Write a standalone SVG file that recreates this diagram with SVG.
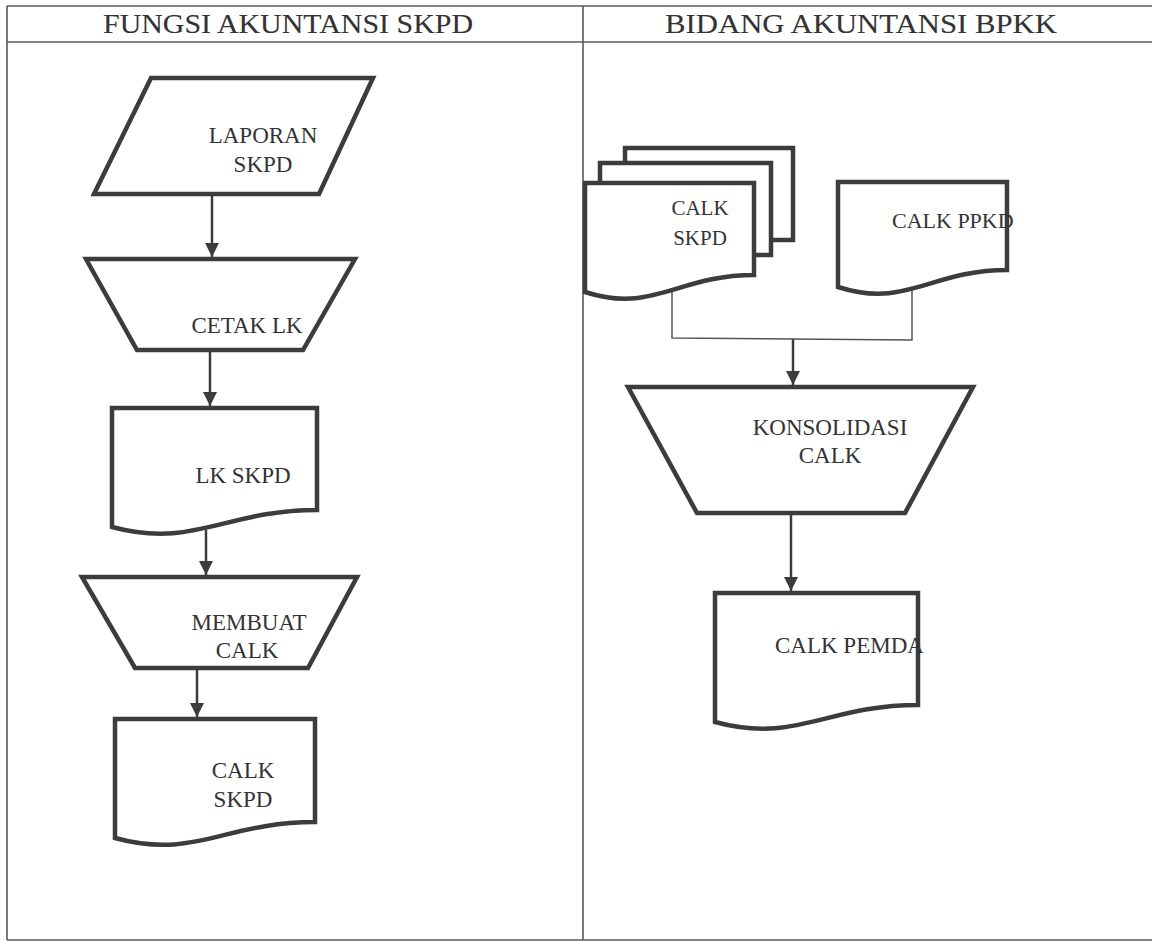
<svg xmlns="http://www.w3.org/2000/svg" width="1152" height="942" viewBox="0 0 1152 942">
  <style>
    .grid { stroke: #5a5856; stroke-width: 1.6; fill: none; }
    .hdr { font-family: "Liberation Serif", "DejaVu Serif", serif; font-size: 27px; fill: #333333; stroke: #333333; stroke-width: 0.1; text-anchor: middle; }
    .shape { fill: #ffffff; stroke: #3c3c3c; stroke-width: 4.5; stroke-linejoin: miter; }
    .lbl { font-family: "Liberation Serif", "Times New Roman", serif; font-size: 23px; fill: #333333; text-anchor: middle; }
    .lbl-s { font-size: 21px; }
    .start { text-anchor: start; }
    .flow { stroke: #3c3c3c; stroke-width: 2.5; fill: none; }
    .join { stroke: #555555; stroke-width: 1.5; fill: none; }
  </style>
  <defs>
    <marker id="arrow" markerUnits="userSpaceOnUse" markerWidth="14" markerHeight="16" refX="14" refY="7" orient="auto">
      <path d="M0,0 L14,7 L0,14 Z" fill="#3c3c3c"/>
    </marker>
  </defs>

  <rect width="1152" height="942" fill="#ffffff"/>

  <!-- swimlane table -->
  <g id="lanes">
    <line class="grid" x1="7" y1="6" x2="1152" y2="6"/>
    <line class="grid" x1="7" y1="42" x2="1152" y2="42"/>
    <line class="grid" x1="7" y1="6" x2="7" y2="940"/>
    <line class="grid" x1="583" y1="6" x2="583" y2="940"/>
    <line class="grid" x1="7" y1="940" x2="1152" y2="940"/>
    <text class="hdr" x="288" y="33" textLength="370" lengthAdjust="spacingAndGlyphs">FUNGSI AKUNTANSI SKPD</text>
    <text class="hdr" x="861" y="33" textLength="392" lengthAdjust="spacingAndGlyphs">BIDANG AKUNTANSI BPKK</text>
  </g>

  <!-- connectors -->
  <g id="connectors">
    <line class="flow" x1="212" y1="196" x2="212" y2="257" marker-end="url(#arrow)"/>
    <line class="flow" x1="210" y1="350" x2="210" y2="406" marker-end="url(#arrow)"/>
    <line class="flow" x1="206" y1="530" x2="206" y2="575" marker-end="url(#arrow)"/>
    <line class="flow" x1="197" y1="668" x2="197" y2="717" marker-end="url(#arrow)"/>
    <polyline class="join" points="672,283 672,338 912,340 912,287"/>
    <line class="flow" x1="793" y1="339" x2="793" y2="385" marker-end="url(#arrow)"/>
    <line class="flow" x1="791" y1="513" x2="791" y2="591" marker-end="url(#arrow)"/>
  </g>

  <!-- left lane -->
  <g id="laporan-skpd">
    <polygon class="shape" points="151,78 373,78 319,194 94,194"/>
    <text class="lbl" x="263" y="143">LAPORAN</text>
    <text class="lbl" x="263" y="172">SKPD</text>
  </g>

  <g id="cetak-lk">
    <polygon class="shape" points="86,259 355,259 303,350 137,350"/>
    <text class="lbl" x="247" y="333">CETAK LK</text>
  </g>

  <g id="lk-skpd">
    <path class="shape" d="M112,408 H317 V510 C225,510 194,549 112,527 Z"/>
    <text class="lbl" x="243" y="483">LK SKPD</text>
  </g>

  <g id="membuat-calk">
    <polygon class="shape" points="82,577 357,577 308,668 135,668"/>
    <text class="lbl" x="249" y="630">MEMBUAT</text>
    <text class="lbl" x="247" y="658">CALK</text>
  </g>

  <g id="calk-skpd">
    <path class="shape" d="M115,719 H315 V822 C225,822 195,860 115,838 Z"/>
    <text class="lbl" x="243" y="778">CALK</text>
    <text class="lbl" x="243" y="807">SKPD</text>
  </g>

  <!-- right lane -->
  <g id="calk-skpd-stack">
    <rect class="shape" x="625" y="148" width="168" height="92"/>
    <rect class="shape" x="600" y="163" width="171" height="92"/>
    <path class="shape" d="M585,183 H754 V275 C678,275 653,314 585,292 Z"/>
    <text class="lbl lbl-s" x="700" y="215">CALK</text>
    <text class="lbl lbl-s" x="700" y="245">SKPD</text>
  </g>

  <g id="calk-ppkd">
    <path class="shape" d="M838,182 H1007 V270 C931,270 906,309 838,287 Z"/>
    <text class="lbl start" x="892" y="228" style="font-size:22px">CALK PPKD</text>
  </g>

  <g id="konsolidasi-calk">
    <polygon class="shape" points="628,387 973,387 905,513 697,513"/>
    <text class="lbl" x="830" y="435">KONSOLIDASI</text>
    <text class="lbl" x="830" y="463">CALK</text>
  </g>

  <g id="calk-pemda">
    <path class="shape" d="M715,593 H918 V705 C827,705 796,744 715,722 Z"/>
    <text class="lbl start" x="775" y="653">CALK PEMDA</text>
  </g>
</svg>
